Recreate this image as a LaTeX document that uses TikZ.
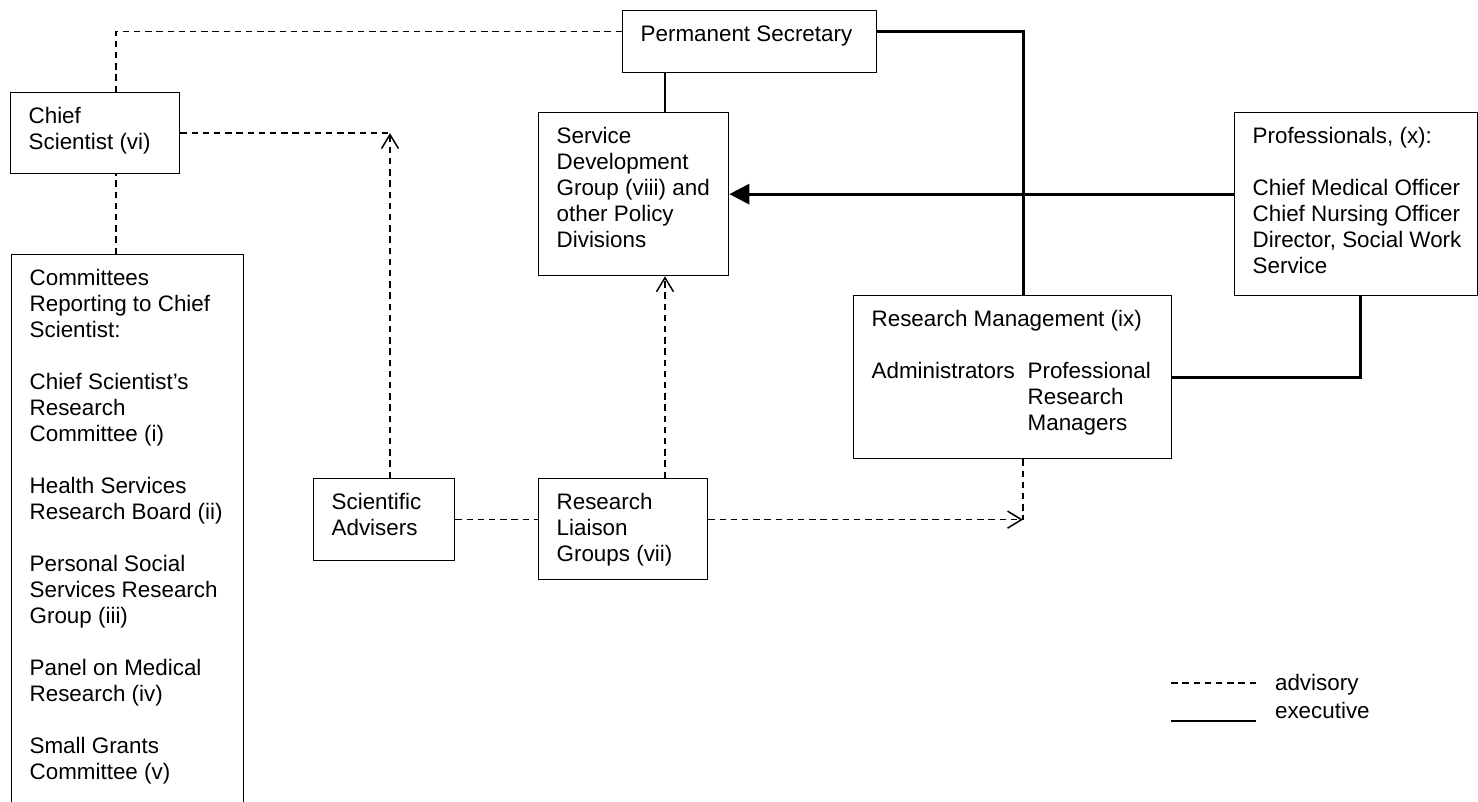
\documentclass[tikz,border=0pt]{standalone}
\usepackage{fontspec}
\setmainfont{Liberation Sans}
\usetikzlibrary{arrows.meta}
\newdimen\pxu \pxu=0.5pt
% box text: width, height (in px), lines
\newcommand{\boxtext}[3]{\parbox[t][\dimexpr#2\pxu-15pt\relax][t]{#1\pxu}{\raggedright\leftskip=9pt\relax #3}}
\begin{document}
\begin{tikzpicture}[
    x=0.5pt, y=-0.5pt,
    box/.style={draw, line width=0.65pt, anchor=north west, inner xsep=0pt, inner ysep=7.5pt,
      font=\fontsize{11.2}{13}\selectfont},
    legend/.style={anchor=west, font=\fontsize{11.2}{13}\selectfont},
    adv/.style={line width=0.75pt, dash pattern=on 3.2pt off 2.4pt},
    exec/.style={line width=1.5pt},
    barb/.style={-{Straight Barb[length=7pt,width=8.5pt]}}
  ]
  \useasboundingbox (0,0) rectangle (1478,802);
  \node[box] (chief) at (10,92) {\boxtext{169}{81}{Chief\\Scientist (vi)}};
  \node[box] (comm) at (11,254) {\boxtext{232}{560}{Committees\\Reporting to Chief\\Scientist:\\[13pt]
    Chief Scientist's\\Research\\Committee (i)\\[13pt]
    Health Services\\Research Board (ii)\\[13pt]
    Personal Social\\Services Research\\Group (iii)\\[13pt]
    Panel on Medical\\Research (iv)\\[13pt]
    Small Grants\\Committee (v)}};
  \node[box] (ps) at (622,10) {\boxtext{254}{62}{Permanent Secretary}};
  \node[box] (sdg) at (538,112) {\boxtext{190}{163}{Service\\Development\\Group (viii) and\\other Policy\\Divisions}};
  \node[box] (prof) at (1234,112) {\boxtext{243}{183}{Professionals, (x):\\[13pt]
    Chief Medical Officer\\Chief Nursing Officer\\Director, Social Work\\Service}};
  \node[box] (rm) at (853,295) {\boxtext{318}{163}{Research Management (ix)\\[13pt]
    \makebox[78pt][l]{Administrators}\parbox[t]{70pt}{Professional\\Research\\Managers}}};
  \node[box] (sa) at (313,478) {\boxtext{141}{82}{Scientific\\Advisers}};
  \node[box] (rlg) at (538,478) {\boxtext{169}{101}{Research\\Liaison\\Groups (vii)}};

  \coordinate (colE) at (116,0);
  \coordinate (colD) at (390,0);
  \coordinate (colA) at (665,0);
  \coordinate (colB) at (1023,0);
  \coordinate (colC) at (1360,0);
  \coordinate (join) at (colB |- sa.east);

  % advisory links
  \draw[adv] (chief.north -| colE) |- ([yshift=5pt]ps.west);
  \draw[adv] (comm.north -| colE) -- (chief.south -| colE);
  \draw[adv] (chief.east) -- (chief.east -| colD);
  \draw[adv, barb] (sa.north -| colD) -- (chief.east -| colD);
  \draw[adv] (sa.east) -- (rlg.west |- sa.east);
  \draw[adv, barb] (rlg.east |- join) -- (join);
  \draw[adv] (rm.south -| colB) -- (join);
  \draw[adv, barb] (rlg.north -| colA) -- (sdg.south -| colA);

  % executive links
  \draw[line width=0.65pt] (ps.south -| colA) -- (sdg.north -| colA);
  \draw[exec] ([yshift=5pt]ps.east) -| (rm.north -| colB);
  \draw[exec, -{Triangle[length=10pt,width=10pt]}] (prof.west |- sdg.east) -- (sdg.east);
  \draw[exec] (rm.east) -| (prof.south -| colC);

  % legend
  \node[legend] (advlbl) at (1268,685) {advisory};
  \node[legend] (execlbl) at (1268,710) {executive};
  \draw[adv] ([xshift=-6pt,yshift=1pt]advlbl.west) -- ++(-85,0);
  \draw[line width=0.8pt] ([xshift=-6pt,yshift=-5.5pt]execlbl.west) -- ++(-85,0);
\end{tikzpicture}
\end{document}
